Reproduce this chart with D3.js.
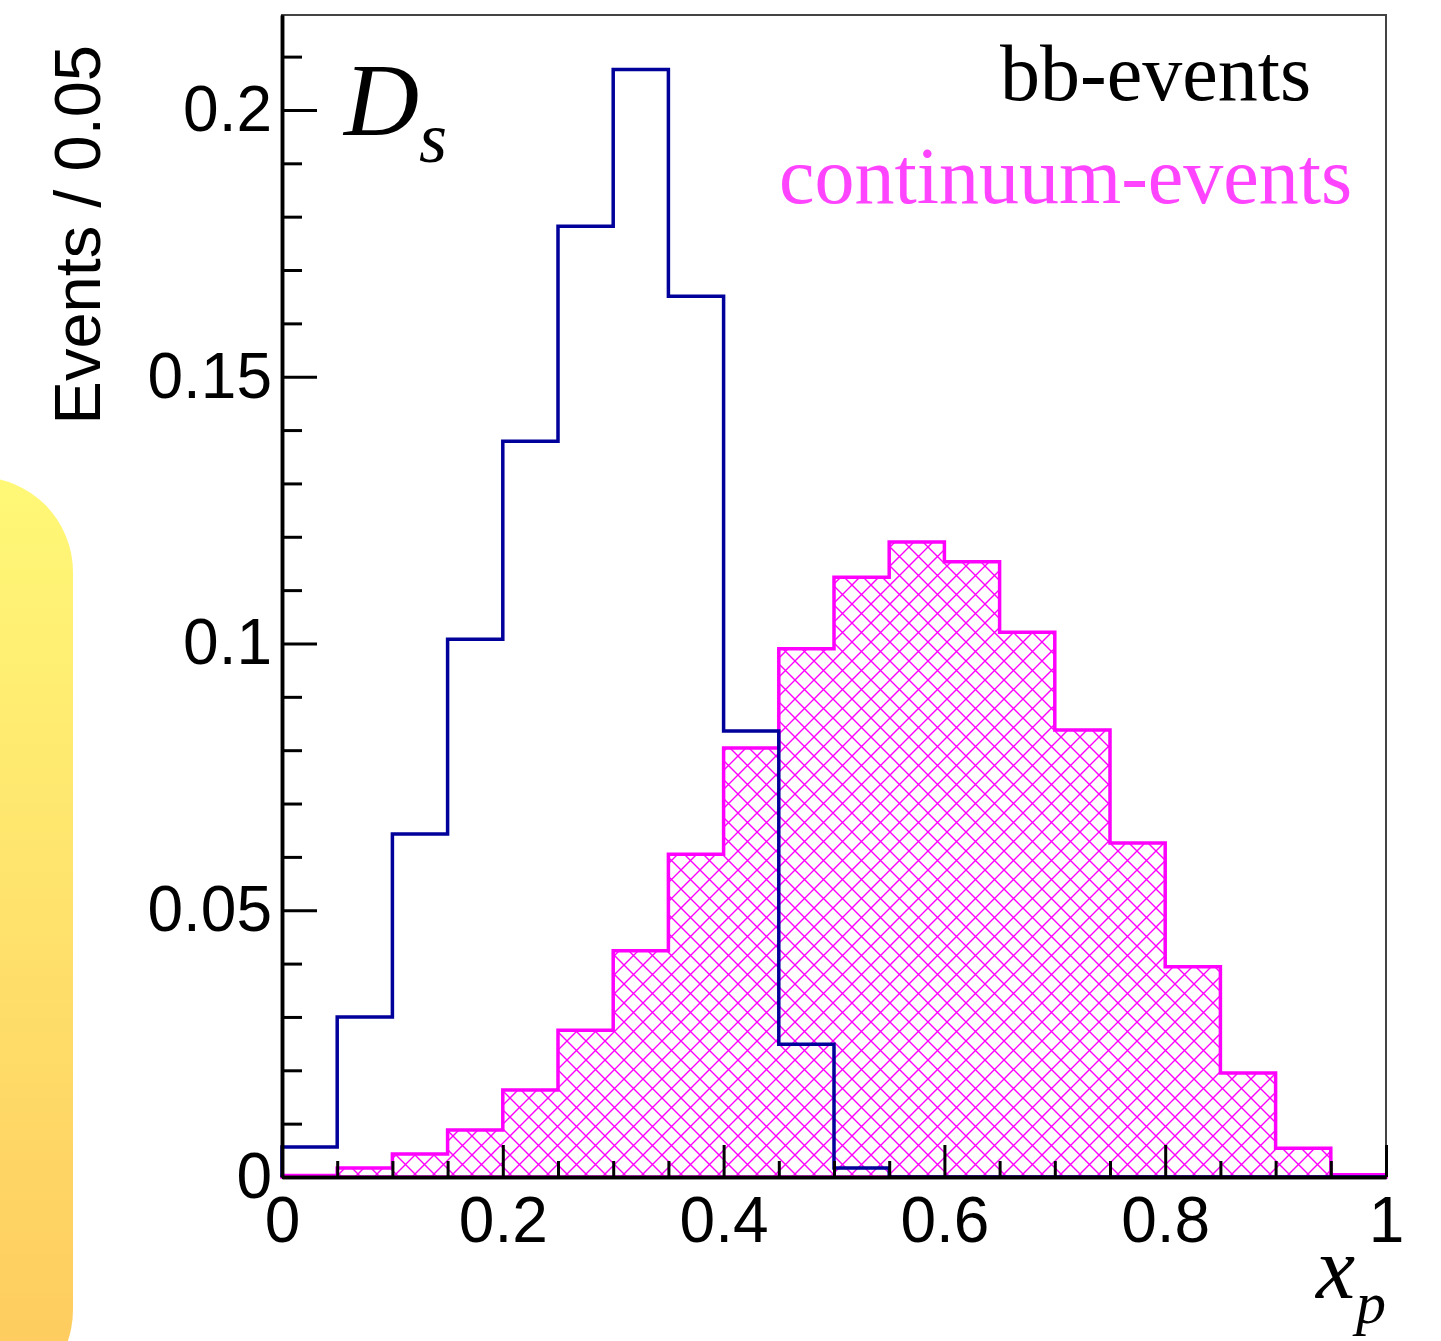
<!DOCTYPE html>
<html>
<head>
<meta charset="utf-8">
<script src="https://cdn.jsdelivr.net/npm/d3@7"></script>
<style>
  body { margin: 0; background: #fff; }
  svg { display: block; }
</style>
</head>
<body>
<script>
// bin lower edges (x_p), bin width 0.05
var binLow = [0, 0.05, 0.1, 0.15, 0.2, 0.25, 0.3, 0.35, 0.4, 0.45,
              0.5, 0.55, 0.6, 0.65, 0.7, 0.75, 0.8, 0.85, 0.9, 0.95];
var binWidth = 0.05;

// bb-events (blue outline)
var bbValues = [0.0056, 0.0300, 0.0643, 0.1008, 0.1379, 0.1782, 0.2076, 0.1651, 0.0836, 0.0249,
                0.0017, 0, 0, 0, 0, 0, 0, 0, 0, 0];
// continuum-events (magenta hatched)
var contValues = [0.0003, 0.0017, 0.0043, 0.0088, 0.0163, 0.0275, 0.0424, 0.0605, 0.0804, 0.0990,
                  0.1124, 0.1190, 0.1153, 0.1021, 0.0838, 0.0626, 0.0394, 0.0195, 0.0054, 0.0004];

var xMajor = [0, 0.2, 0.4, 0.6, 0.8, 1];
var xMinor = [0.05, 0.1, 0.15, 0.25, 0.3, 0.35, 0.45, 0.5, 0.55, 0.65, 0.7, 0.75, 0.85, 0.9, 0.95];
var yMajor = [0, 0.05, 0.1, 0.15, 0.2];
var yMinor = [0.01, 0.02, 0.03, 0.04, 0.06, 0.07, 0.08, 0.09, 0.11, 0.12, 0.13, 0.14,
              0.16, 0.17, 0.18, 0.19, 0.21];

// ================= layout =============== //
var W = 1441, H = 1341;
var margin = {top: 15, right: 55, bottom: 164, left: 282};
var width = W - margin.left - margin.right;
var height = H - margin.top - margin.bottom;

var svg = d3.select("body").append("svg")
    .attr("width", W)
    .attr("height", H);

var defs = svg.append("defs");

// yellow side panel
var grad = defs.append("linearGradient")
    .attr("id", "panelGrad")
    .attr("x1", 0).attr("y1", 0).attr("x2", 0).attr("y2", 1);
grad.append("stop").attr("offset", "0%").attr("stop-color", "#fff877");
grad.append("stop").attr("offset", "100%").attr("stop-color", "#fec95e");

svg.append("rect")
    .attr("x", -120)
    .attr("y", 477)
    .attr("width", 193)
    .attr("height", 928)
    .attr("rx", 95)
    .attr("ry", 95)
    .attr("fill", "url(#panelGrad)");

// cross hatch for continuum
var pat = defs.append("pattern")
    .attr("id", "hatch")
    .attr("patternUnits", "userSpaceOnUse")
    .attr("width", 19)
    .attr("height", 19);
pat.append("rect").attr("width", 19).attr("height", 19).attr("fill", "#fff");
pat.append("path")
    .attr("d", "M0,0L19,19M19,0L0,19M-1,18L1,20M18,-1L20,1")
    .attr("stroke", "#ff00ff")
    .attr("stroke-width", 1.4)
    .attr("fill", "none");

var g = svg.append("g")
    .attr("transform", "translate(" + margin.left + "," + margin.top + ")");

var x = d3.scaleLinear().domain([0, 1]).range([0, width]);
var y = d3.scaleLinear().domain([0, 0.2178]).range([height, 0]);

// step outline points for a histogram
function stepPoints(values) {
  var pts = [[0, 0]];
  for (var i = 0; i < values.length; i++) {
    pts.push([binLow[i], values[i]]);
    pts.push([binLow[i] + binWidth, values[i]]);
  }
  pts.push([binLow[binLow.length - 1] + binWidth, 0]);
  return pts;
}

var line = d3.line()
    .x(function(d) { return x(d[0]); })
    .y(function(d) { return y(d[1]); });

// frame (top / right thin)
g.append("rect")
    .attr("x", 0).attr("y", 0)
    .attr("width", width).attr("height", height)
    .attr("fill", "none")
    .attr("stroke", "#444")
    .attr("stroke-width", 2);

// continuum histogram
g.append("path")
    .attr("d", line(stepPoints(contValues)) + "Z")
    .attr("fill", "url(#hatch)")
    .attr("stroke", "#ff00ff")
    .attr("stroke-width", 3.5)
    .attr("stroke-linejoin", "miter");

// bb histogram
g.append("path")
    .attr("d", line(stepPoints(bbValues)))
    .attr("fill", "none")
    .attr("stroke", "#00009a")
    .attr("stroke-width", 3.5);

// axes
var fmt = function(d) { return d === 0 ? "0" : d3.format("")(+d.toFixed(2)); };

g.append("g")
    .call(d3.axisLeft(y).tickValues(yMajor).tickSize(-35).tickSizeOuter(0)
      .tickPadding(10).tickFormat(fmt));
g.append("g")
    .call(d3.axisLeft(y).tickValues(yMinor).tickSize(-20).tickSizeOuter(0).tickFormat(""));

g.append("g")
    .attr("transform", "translate(0," + height + ")")
    .call(d3.axisBottom(x).tickValues(xMajor).tickSize(-32).tickSizeOuter(0)
      .tickPadding(20).tickFormat(fmt));
g.append("g")
    .attr("transform", "translate(0," + height + ")")
    .call(d3.axisBottom(x).tickValues(xMinor).tickSize(-16).tickSizeOuter(0).tickFormat(""));

g.selectAll(".domain").attr("stroke", "#000").attr("stroke-width", 3.5);
g.selectAll(".tick line").attr("stroke", "#000").attr("stroke-width", 3);
g.selectAll(".tick text")
    .attr("font-family", "'Liberation Sans', Arial, sans-serif")
    .attr("font-size", "64px")
    .attr("fill", "#000");

// axis titles
svg.append("text")
    .attr("transform", "translate(100,45) rotate(-90)")
    .attr("text-anchor", "end")
    .attr("font-family", "'Liberation Sans', Arial, sans-serif")
    .attr("font-size", "65px")
    .text("Events / 0.05");

var xp = svg.append("text")
    .attr("font-family", "'Liberation Serif', 'Times New Roman', serif")
    .attr("font-style", "italic");
xp.append("tspan").attr("x", 1316).attr("y", 1298).attr("font-size", "88px").text("x");
xp.append("tspan").attr("x", 1356).attr("y", 1323).attr("font-size", "60px").text("p");

// D_s label
var ds = svg.append("text")
    .attr("font-family", "'Liberation Serif', 'Times New Roman', serif")
    .attr("font-style", "italic");
ds.append("tspan").attr("x", 344).attr("y", 135).attr("font-size", "104px").text("D");
ds.append("tspan").attr("x", 419).attr("y", 162).attr("font-size", "72px").text("s");

// legend texts
svg.append("text")
    .attr("x", 1000).attr("y", 100)
    .attr("font-family", "'Liberation Serif', 'Times New Roman', serif")
    .attr("font-size", "80px")
    .attr("fill", "#000")
    .text("bb-events");
svg.append("text")
    .attr("x", 779).attr("y", 203)
    .attr("font-family", "'Liberation Serif', 'Times New Roman', serif")
    .attr("font-size", "80px")
    .attr("fill", "#ff44ff")
    .text("continuum-events");
</script>
</body>
</html>
